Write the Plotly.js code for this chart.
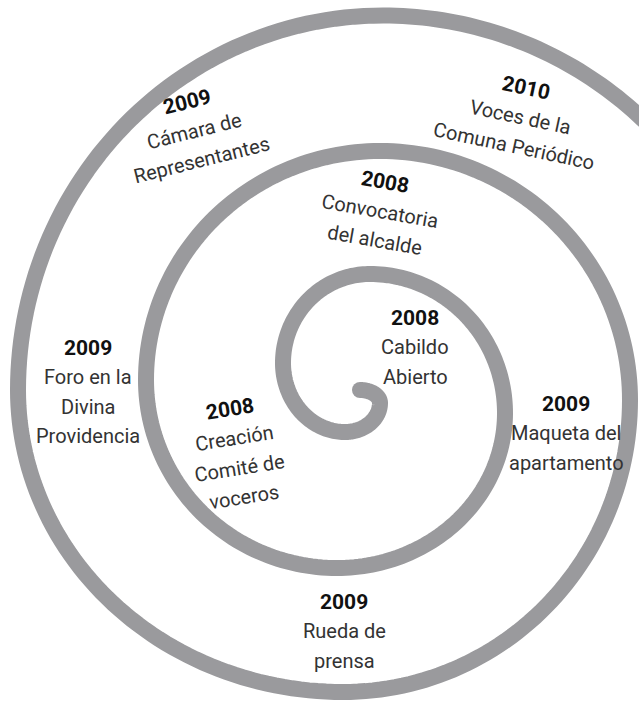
<!DOCTYPE html>
<html>
<head>
<meta charset="utf-8">
<script src="https://cdn.plot.ly/plotly-3.0.1.min.js"></script>
<style>html,body{margin:0;padding:0;background:#fff;}#chart{width:639px;height:707px;}</style>
</head>
<body>
<div id="chart"></div>
<script>
// Spiral turning points (start cap, then right, bottom, left, top ... clockwise outward)
const spiralKeyX = [360, 380, 345, 283, 370, 505, 337, 146, 380, 630, 343, 18, 383, 763];
const spiralKeyY = [390, 403, 432, 363, 274, 413, 568, 380, 151, 400, 692, 390, 15.5, 400];

// Timeline labels
const years = ["2009", "2010", "2008", "2008", "2009", "2008", "2009", "2009"];
const descriptions = [
  ["Cámara de", "Representantes"],
  ["Voces de la", "Comuna Periódico"],
  ["Convocatoria", "del alcalde"],
  ["Cabildo", "Abierto"],
  ["Foro en la", "Divina", "Providencia"],
  ["Creación", "Comité de", "voceros"],
  ["Maqueta del", "apartamento"],
  ["Rueda de", "prensa"]
];

// Layout of the label blocks (center x, center y, rotation in degrees)
const labelPlacement = [
  [194, 131, -14],
  [520, 117, 12],
  [380, 211, 10],
  [415, 347, 0],
  [88, 392, 0],
  [237, 453, -9],
  [566, 433, 0],
  [344, 631, 0]
];

const SPIRAL_COLOR = "#9a9a9d";
const LINE_GAP = 29.5;

// Build the spiral as quarter-elliptical arcs between the turning points
const sx = [], sy = [];
const N = 60;
for (let i = 0; i < spiralKeyX.length - 1; i++) {
  const Sx = spiralKeyX[i], Sy = spiralKeyY[i];
  const Ex = spiralKeyX[i + 1], Ey = spiralKeyY[i + 1];
  // even index: top/bottom point (horizontal tangent); odd: right/left (vertical tangent)
  let Cx, Cy;
  if (i % 2 === 0) { Cx = Sx; Cy = Ey; } else { Cx = Ex; Cy = Sy; }
  const last = (i === spiralKeyX.length - 2);
  const tMax = last ? 1.05 : Math.PI / 2;
  for (let k = (i === 0 ? 0 : 1); k <= N; k++) {
    const t = tMax * k / N;
    sx.push(Cx + (Sx - Cx) * Math.cos(t) + (Ex - Cx) * Math.sin(t));
    sy.push(Cy + (Sy - Cy) * Math.cos(t) + (Ey - Cy) * Math.sin(t));
  }
}

const traces = [
  {
    x: sx, y: sy, type: "scatter", mode: "lines",
    line: {color: SPIRAL_COLOR, width: 16, simplify: false},
    hoverinfo: "skip"
  },
  {
    x: [spiralKeyX[0]], y: [spiralKeyY[0]], type: "scatter", mode: "markers",
    marker: {color: SPIRAL_COLOR, size: 16, line: {width: 0}},
    hoverinfo: "skip"
  }
];

const annotations = [];
years.forEach((yr, b) => {
  const lines = [{text: "<b>" + yr + "</b>", year: true}].concat(descriptions[b].map(t => ({text: t, year: false})));
  const [cx, cy, ang] = labelPlacement[b];
  const th = ang * Math.PI / 180;
  const n = lines.length;
  lines.forEach((ln, i) => {
    const off = (i - (n - 1) / 2) * LINE_GAP;
    annotations.push({
      x: cx - Math.sin(th) * off,
      y: cy + Math.cos(th) * off,
      xref: "x", yref: "y",
      text: ln.text,
      showarrow: false,
      textangle: ang,
      xanchor: "center", yanchor: "middle",
      font: ln.year
        ? {family: "Roboto, 'Open Sans', sans-serif", size: 21, color: "#111111"}
        : {family: "Roboto, 'Open Sans', sans-serif", size: 20, color: "#333333"}
    });
  });
});

const layout = {
  width: 639, height: 707,
  margin: {l: 0, r: 0, t: 0, b: 0, pad: 0},
  paper_bgcolor: "#ffffff", plot_bgcolor: "#ffffff",
  showlegend: false,
  xaxis: {range: [0, 639], visible: false, fixedrange: true},
  yaxis: {range: [707, 0], visible: false, fixedrange: true},
  annotations: annotations
};

Plotly.newPlot("chart", traces, layout, {staticPlot: true, displayModeBar: false});
</script>
</body>
</html>
